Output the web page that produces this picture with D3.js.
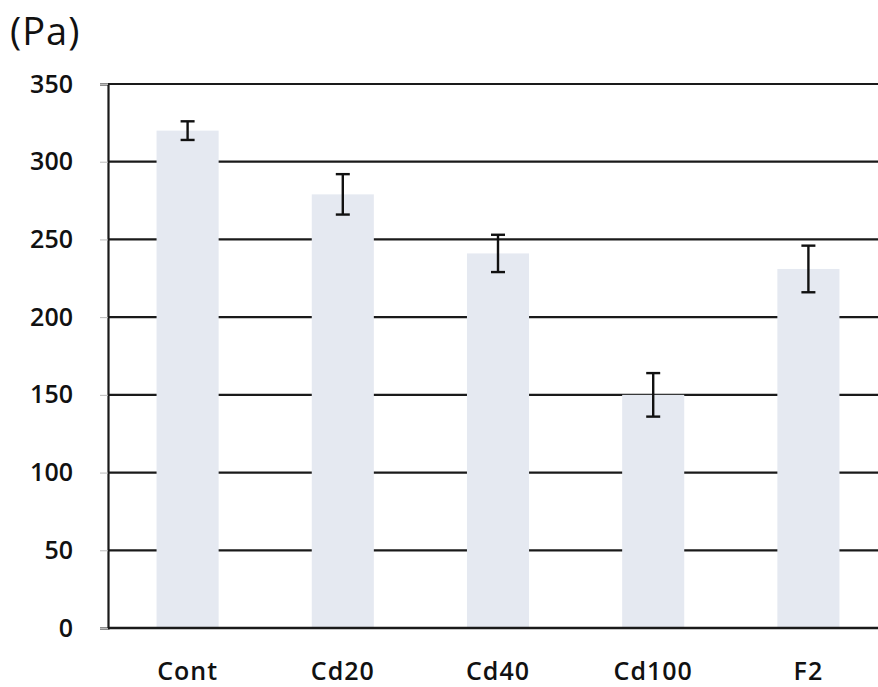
<!DOCTYPE html>
<head>
  <meta charset="UTF-8">
  <style>
    body { margin: 0; background: #fff; }
    text { font-family: "Open Sans", "Noto Sans", sans-serif; fill: #111; }
  </style>
  <title>Pa by group</title>
</head>
<body>
  <script src="https://cdn.jsdelivr.net/npm/d3@7"></script>
  <script>
    // data
    var categories = ["Cont", "Cd20", "Cd40", "Cd100", "F2"];
    var means = [320, 279, 241, 150, 231];
    var errors = [6, 13, 12, 14, 15];
    var yTicks = [0, 50, 100, 150, 200, 250, 300, 350];

    var width = 878;
    var height = 687;
    var plotLeft = 108;
    var plotTop = 84;
    var plotBottom = 628;

    var svg = d3.select("body").append("svg")
      .attr("width", width)
      .attr("height", height);

    var x = d3.scaleBand().domain(categories).range([plotLeft + 2, width + 8]).paddingInner(0.6).paddingOuter(0.3);
    var y = d3.scaleLinear().domain([0, 350]).range([plotBottom, plotTop]);

    // gridlines first, bars cover them
    svg.append("g").selectAll("line")
      .data(yTicks.filter(function(d) { return d > 0 }))
      .enter().append("line")
      .attr("x1", plotLeft).attr("x2", width)
      .attr("y1", function(d) { return y(d) })
      .attr("y2", function(d) { return y(d) })
      .attr("stroke", "#1a1a1a")
      .attr("stroke-width", 2.2);

    // bars
    svg.append("g").selectAll("rect")
      .data(categories)
      .enter().append("rect")
      .attr("x", function(d) { return x(d) })
      .attr("y", function(d, i) { return y(means[i]) })
      .attr("width", x.bandwidth())
      .attr("height", function(d, i) { return plotBottom - y(means[i]) })
      .attr("fill", "#e5e9f1");

    // error bars
    var eb = svg.append("g").attr("stroke", "#111").attr("stroke-width", 2.4);
    categories.forEach(function(c, i) {
      var cx = x(c) + x.bandwidth() / 2;
      eb.append("line").attr("x1", cx).attr("x2", cx)
        .attr("y1", y(means[i] + errors[i])).attr("y2", y(means[i] - errors[i]));
      eb.append("line").attr("x1", cx - 7).attr("x2", cx + 7)
        .attr("y1", y(means[i] + errors[i])).attr("y2", y(means[i] + errors[i]));
      eb.append("line").attr("x1", cx - 7).attr("x2", cx + 7)
        .attr("y1", y(means[i] - errors[i])).attr("y2", y(means[i] - errors[i]));
    });

    // y axis
    var yAxis = d3.axisLeft(y).tickValues(yTicks).tickSize(8).tickPadding(27);
    var yg = svg.append("g")
      .attr("transform", "translate(" + plotLeft + ",0)")
      .call(yAxis);
    yg.select(".domain").attr("stroke", "#1a1a1a").attr("stroke-width", 2.2);
    yg.selectAll(".tick line").attr("stroke", "#bbb");
    yg.selectAll(".tick text").attr("font-size", 25).attr("font-weight", 600);

    // x axis
    svg.append("line")
      .attr("x1", plotLeft).attr("x2", width)
      .attr("y1", plotBottom).attr("y2", plotBottom)
      .attr("stroke", "#1a1a1a").attr("stroke-width", 2.4);

    svg.append("g").selectAll("text")
      .data(categories)
      .enter().append("text")
      .attr("x", function(d) { return x(d) + x.bandwidth() / 2 })
      .attr("y", 680)
      .attr("text-anchor", "middle")
      .attr("font-size", 25)
      .attr("font-weight", 600)
      .attr("letter-spacing", 1)
      .text(function(d) { return d });

    // unit label
    svg.append("text")
      .attr("x", 10)
      .attr("y", 45)
      .attr("font-size", 38)
      .attr("letter-spacing", 1)
      .text("(Pa)");
  </script>
</body>
